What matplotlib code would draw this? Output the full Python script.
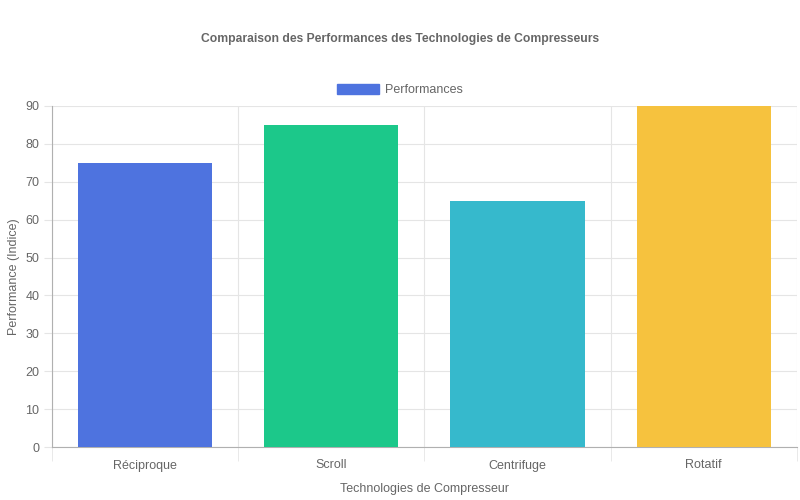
import numpy as np
import matplotlib
matplotlib.use("Agg")
import matplotlib.pyplot as plt
from matplotlib.patches import Patch

plt.rcParams['font.family'] = ['Liberation Sans', 'DejaVu Sans']

# data
technologies = ["Réciproque", "Scroll", "Centrifuge", "Rotatif"]
performances = [75, 85, 65, 90]
colors = ["#4e73df", "#1cc88a", "#36b9cc", "#f6c23e"]
y_ticks = list(range(0, 100, 10))

text_color = "#666666"
grid_color = "#e5e5e5"

fig = plt.figure(figsize=(8, 5), dpi=100)
ax = fig.add_axes([0.065, 0.106, 0.931, 0.682])

x = np.arange(len(technologies))
ax.bar(x, performances, width=0.72, color=colors, zorder=3)

ax.set_xlim(-0.5, len(technologies) - 0.5)
ax.set_ylim(0, 90)
ax.set_yticks(y_ticks)
ax.set_xticks(x)
ax.set_xticklabels(technologies)
ax.set_xticks(np.arange(-0.5, len(technologies)), minor=True)

ax.tick_params(axis='x', which='major', length=0, pad=9, labelsize=9, labelcolor=text_color)
ax.tick_params(axis='x', which='minor', length=10, color=grid_color)
ax.tick_params(axis='y', length=6, color=grid_color, pad=3, labelsize=9, labelcolor=text_color)

ax.grid(True, axis='y', color=grid_color, linewidth=0.8, zorder=0)
ax.grid(True, axis='x', which='minor', color=grid_color, linewidth=0.8, zorder=0)

for side in ['top', 'right']:
    ax.spines[side].set_visible(False)
for side in ['left', 'bottom']:
    ax.spines[side].set_color("#b0b0b0")
    ax.spines[side].set_linewidth(0.8)

ax.set_xlabel("Technologies de Compresseur", fontsize=9, color=text_color, labelpad=8)
ax.set_ylabel("Performance (Indice)", fontsize=9, color=text_color, labelpad=4)

fig.suptitle("Comparaison des Performances des Technologies de Compresseurs",
             y=0.934, fontsize=8.7, fontweight='bold', color=text_color)

handle = Patch(facecolor=colors[0], edgecolor=colors[0])
fig.legend([handle], ["Performances"], loc='center', bbox_to_anchor=(0.5, 0.82),
           frameon=False, fontsize=9, labelcolor=text_color,
           handlelength=3.3, handleheight=0.9, handletextpad=0.5)

fig.savefig("out.png", dpi=100)
